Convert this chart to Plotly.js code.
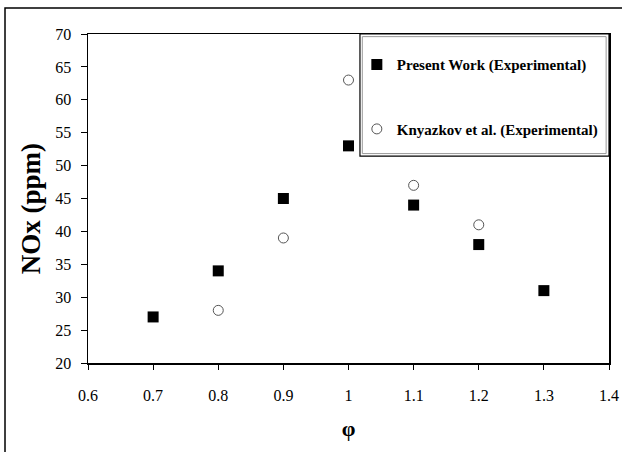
<!DOCTYPE html>
<html>
<head>
<meta charset="utf-8">
<script src="https://cdn.plot.ly/plotly-3.0.1.min.js"></script>
<style>html,body{margin:0;padding:0;background:#fff;}#chart{width:622px;height:452px;}</style>
</head>
<body>
<div id="chart"></div>
<script>
const presentPhi = [0.7, 0.8, 0.9, 1.0, 1.1, 1.2, 1.3];
const presentNOx = [27, 34, 45, 53, 44, 38, 31];
const knyazkovPhi = [0.8, 0.9, 1.0, 1.1, 1.2];
const knyazkovNOx = [28, 39, 63, 47, 41];
const xTicks = [0.6, 0.7, 0.8, 0.9, 1, 1.1, 1.2, 1.3, 1.4];
const xTickLabels = ['0.6', '0.7', '0.8', '0.9', '1', '1.1', '1.2', '1.3', '1.4'];
const yTicks = [20, 25, 30, 35, 40, 45, 50, 55, 60, 65, 70];
const yTitle = 'NOx (ppm)';

const serif = 'Liberation Serif, Times New Roman, serif';

const traces = [
  {
    x: presentPhi, y: presentNOx, type: 'scatter', mode: 'markers',
    name: 'Present Work (Experimental)', legendgroup: 'a',
    marker: {symbol: 'square', size: 11, color: '#000', line: {width: 0}}
  },
  {
    x: knyazkovPhi, y: knyazkovNOx, type: 'scatter', mode: 'markers',
    name: 'Knyazkov et al. (Experimental)', legendgroup: 'b',
    marker: {symbol: 'circle-open', size: 10, color: '#555', line: {width: 1, color: '#555'}}
  }
];

const layout = {
  width: 622, height: 452,
  margin: {l: 88, r: 13, t: 34, b: 89},
  paper_bgcolor: '#fff', plot_bgcolor: '#fff',
  showlegend: true,
  legend: {
    x: 0.516, y: 0.957, xanchor: 'left', yanchor: 'top',
    bgcolor: 'rgba(0,0,0,0)', borderwidth: 0,
    font: {family: serif, size: 15, color: '#000', weight: 'bold'},
    traceorder: 'grouped', tracegroupgap: 42
  },
  xaxis: {
    range: [0.6, 1.4], tickvals: xTicks, ticktext: xTickLabels,
    showgrid: false, zeroline: false, showline: true, linecolor: '#000', linewidth: 1.5,
    mirror: true, ticks: 'outside', ticklen: 5, tickcolor: '#000', tickwidth: 1,
    ticklabelstandoff: 12,
    tickfont: {family: serif, size: 16, color: '#000'},
    title: {text: 'φ', font: {family: serif, size: 22, color: '#000', weight: 'bold'}, standoff: 18}
  },
  yaxis: {
    range: [20, 70], tickvals: yTicks,
    showgrid: false, zeroline: false, showline: true, linecolor: '#000', linewidth: 1.5,
    mirror: true, ticks: 'outside', ticklen: 6, tickcolor: '#000', tickwidth: 1,
    ticklabelstandoff: 6,
    tickfont: {family: serif, size: 16, color: '#000'}
  },
  annotations: [
    {text: yTitle, xref: 'paper', yref: 'paper', x: -0.109, y: 0.468,
     xanchor: 'center', yanchor: 'middle', textangle: -90, showarrow: false,
     font: {family: serif, size: 27, color: '#000', weight: 'bold'}}
  ],
  shapes: [
    {type: 'rect', xref: 'paper', yref: 'paper', x0: -0.1593, x1: 1.06, y0: -0.35, y1: 1.079,
     line: {color: '#000', width: 1.5}, fillcolor: 'rgba(0,0,0,0)'},
    {type: 'rect', xref: 'paper', yref: 'paper', x0: 0.522, x1: 1.0, y0: 0.629, y1: 1.0,
     line: {color: '#000', width: 1.2}, fillcolor: 'rgba(0,0,0,0)'},
    {type: 'rect', xref: 'paper', yref: 'paper', x0: 0.5265, x1: 0.9945, y0: 0.6365, y1: 0.992,
     line: {color: '#999', width: 1}, fillcolor: 'rgba(0,0,0,0)'}
  ]
};

Plotly.newPlot('chart', traces, layout, {displayModeBar: false, staticPlot: true});
</script>
</body>
</html>
